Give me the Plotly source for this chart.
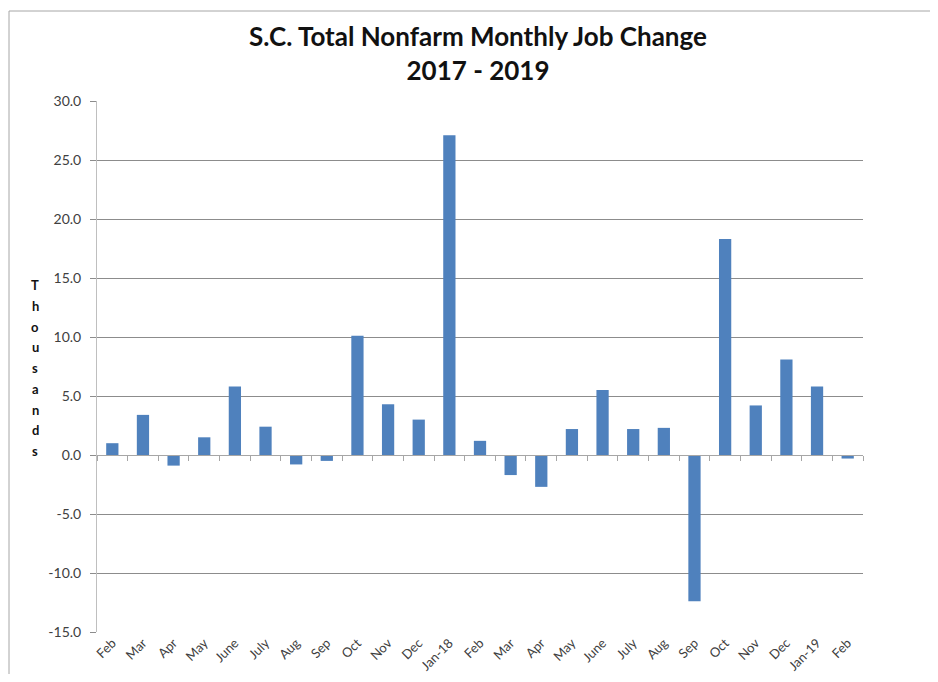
import plotly.graph_objects as go

months = ["Feb", "Mar", "Apr", "May", "June", "July", "Aug", "Sep", "Oct", "Nov", "Dec", "Jan-18",
          "Feb", "Mar", "Apr", "May", "June", "July", "Aug", "Sep", "Oct", "Nov", "Dec", "Jan-19", "Feb"]
job_change = [1.0, 3.4, -0.9, 1.5, 5.8, 2.4, -0.8, -0.5, 10.1, 4.3, 3.0, 27.1,
              1.2, -1.7, -2.7, 2.2, 5.5, 2.2, 2.3, -12.4, 18.3, 4.2, 8.1, 5.8, -0.3]
y_ticks = [-15, -10, -5, 0, 5, 10, 15, 20, 25, 30]
y_title = "Thousands"

x_pos = list(range(len(months)))
boundaries = [i - 0.5 for i in range(len(months) + 1)]

font_family = "Lato, Open Sans, sans-serif"
ymin, ymax = -15, 30

# page offset of the figure inside the browser (body margin)
OFF = 7
W, H = 938 - 2 * 8, 682 - 2 * 8
L, T = 96 - OFF, 100 - OFF
R, B = W - (862 - OFF), H - (631 - OFF)
PW, PH = W - L - R, H - T - B


def px_x(sx):
    return (sx - OFF - L) / PW


def px_y(sy):
    return (H - B - (sy - OFF)) / PH


fig = go.Figure()
fig.add_trace(go.Bar(x=x_pos, y=job_change, marker_color="#4f81bd",
                     marker_line_width=0, showlegend=False))
fig.add_trace(go.Scatter(x=[x_pos[0]], y=[0], xaxis="x2", mode="markers",
                         marker_opacity=0, showlegend=False, hoverinfo="skip"))

fig.update_layout(
    width=W, height=H,
    margin=dict(l=L, r=R, t=T, b=B, autoexpand=False),
    paper_bgcolor="white", plot_bgcolor="white",
    bargap=0.6,
    font=dict(family=font_family, color="#404040", size=13),
    title=dict(text="<b>S.C. Total Nonfarm Monthly Job Change<br>2017 - 2019</b>",
               x=(477 - OFF) / W, xanchor="center", y=1 - (45 - OFF) / H, yanchor="top",
               font=dict(size=26, color="#111111", family=font_family)),
    xaxis=dict(range=[-0.5, len(months) - 0.5], tickmode="array", tickvals=x_pos,
               ticktext=months, tickangle=-45, showgrid=False, zeroline=False,
               showline=False, ticks="", automargin=False,
               tickfont=dict(size=13, color="#404040")),
    xaxis2=dict(overlaying="x", anchor="free", position=(0 - ymin) / (ymax - ymin),
                range=[-0.5, len(months) - 0.5], tickmode="array", tickvals=boundaries,
                showticklabels=False, showgrid=False, zeroline=False, showline=True,
                linecolor="#a6a6a6", linewidth=1, ticks="outside", ticklen=5,
                tickcolor="#a6a6a6", automargin=False),
    yaxis=dict(range=[ymin, ymax], tickmode="array", tickvals=y_ticks,
               ticktext=[f"{v:.1f}" for v in y_ticks], showgrid=True,
               gridcolor="#8c8c8c", gridwidth=1, zeroline=False, showline=True,
               linecolor="#bfbfbf", linewidth=1, ticks="outside", ticklen=6,
               tickcolor="#8c8c8c", ticklabelstandoff=6, automargin=False,
               tickfont=dict(size=14, color="#404040")),
)

for i, ch in enumerate(y_title):
    fig.add_annotation(text="<b>%s</b>" % ch, xref="paper", yref="paper",
                       x=px_x(34), y=px_y(284 + i * 20.75),
                       xanchor="center", yanchor="middle", showarrow=False,
                       font=dict(size=13, color="#111111", family=font_family))

# outer chart frame (left and top edges visible in the reference)
fig.add_shape(type="line", xref="paper", yref="paper",
              x0=px_x(8), x1=px_x(8), y0=px_y(700), y1=px_y(10),
              line=dict(color="#a6a6a6", width=1), layer="below")
fig.add_shape(type="line", xref="paper", yref="paper",
              x0=px_x(8), x1=px_x(960), y0=px_y(10), y1=px_y(10),
              line=dict(color="#a6a6a6", width=1), layer="below")

fig.write_html("out.html")
